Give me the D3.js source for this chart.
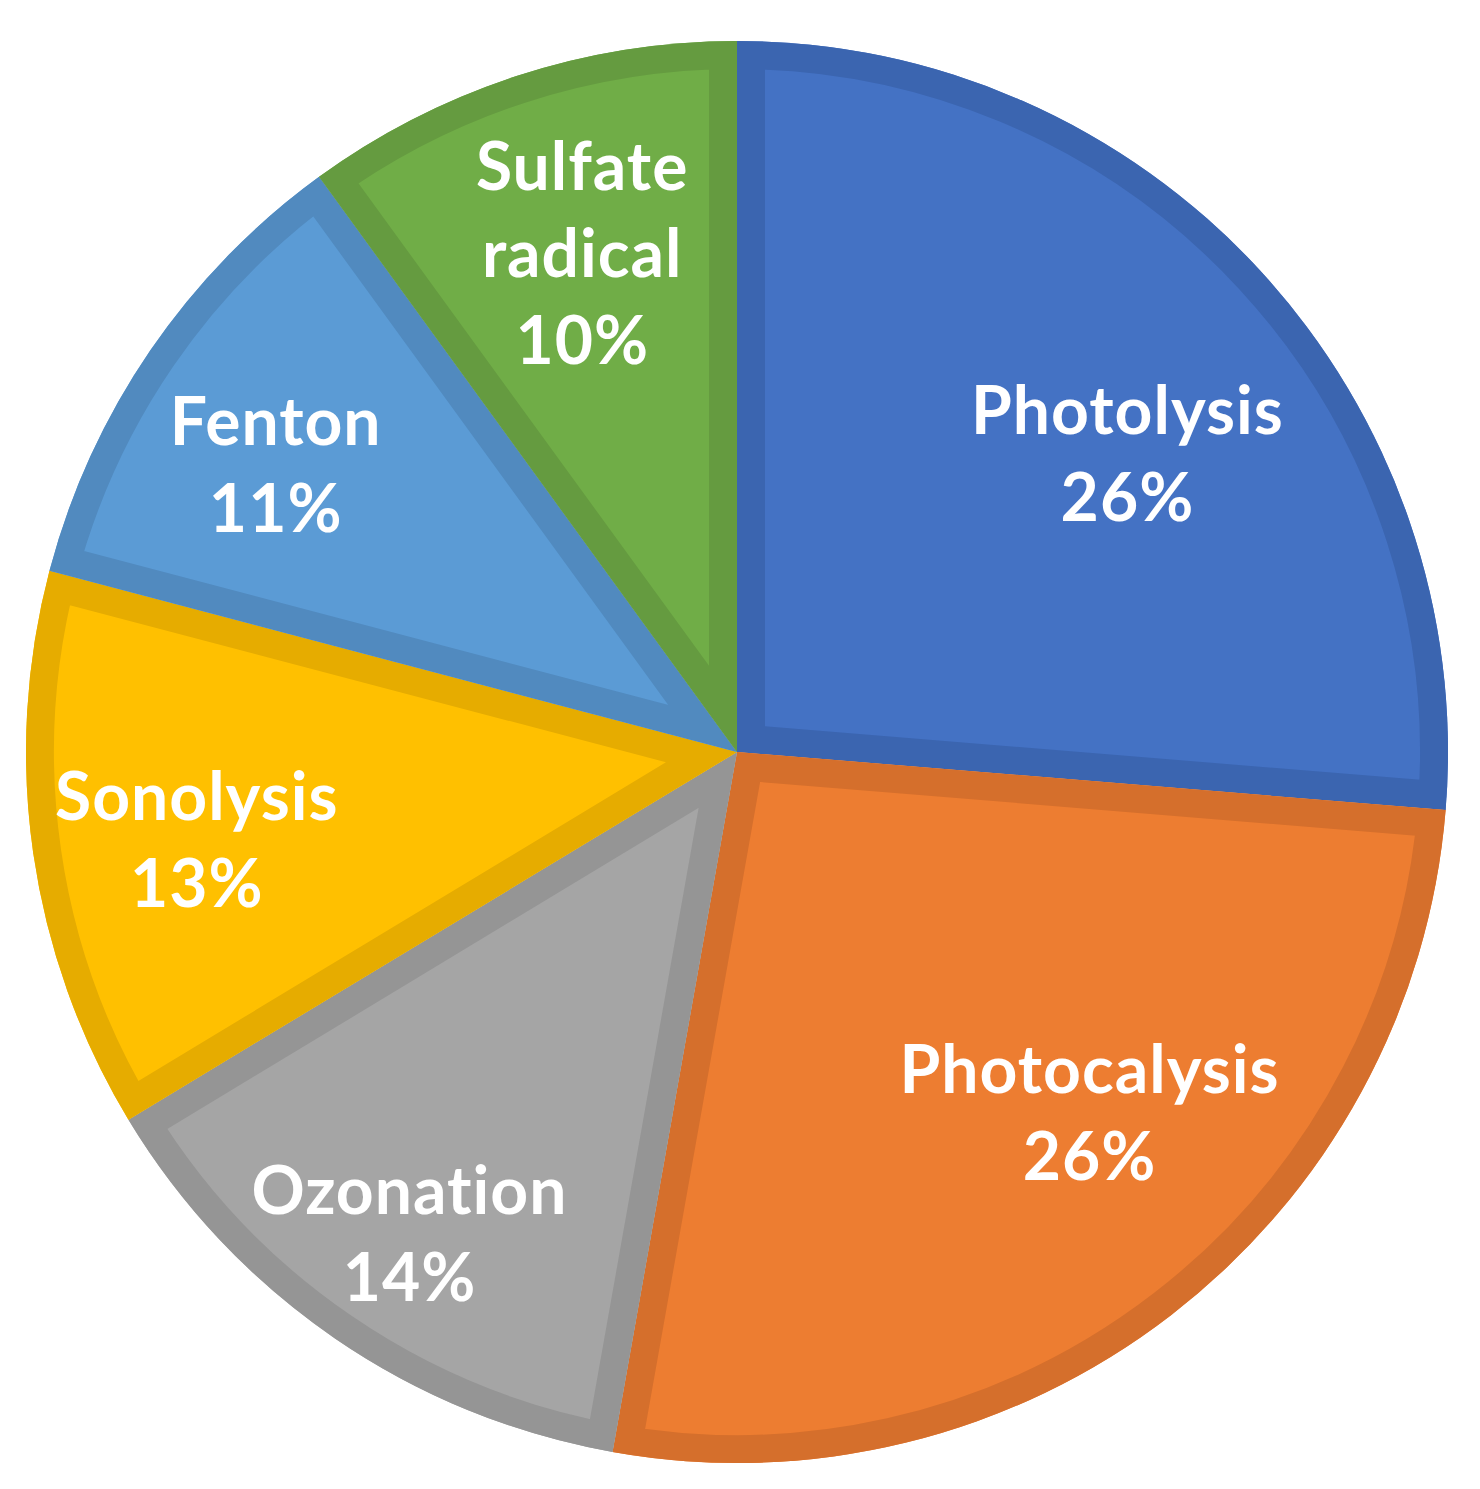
<!DOCTYPE html>
<html>
<head>
<meta charset="utf-8">
<script src="https://cdn.jsdelivr.net/npm/d3@7/dist/d3.min.js"></script>
<style>
  html, body { margin: 0; padding: 0; background: #ffffff; }
  svg { display: block; }
</style>
</head>
<body>
<svg id="chart" width="1480" height="1489"></svg>
<script>
// ---- data ----
const categories = ["Photolysis", "Photocalysis", "Ozonation", "Sonolysis", "Fenton", "Sulfate radical"];
const values = [26.3, 26.5, 13.55, 12.75, 10.9, 10.0];
const percentLabels = ["26%", "26%", "14%", "13%", "11%", "10%"];

// ---- style / layout ----
const fillColors   = ["#4472C4", "#ED7D31", "#A5A5A5", "#FFC000", "#5B9BD5", "#70AD47"];
const borderColors = ["#3B65B0", "#D56F2C", "#959595", "#E6AC00", "#518ABF", "#659B40"];
const nameLines = [["Photolysis"], ["Photocalysis"], ["Ozonation"], ["Sonolysis"], ["Fenton"], ["Sulfate", "radical"]];
// label anchor: t = fraction across the slice's angle, r = fraction of radius
const labelPolar = [
  {t: 0.557, r: 0.69}, {t: 0.43, r: 0.71}, {t: 0.494, r: 0.82},
  {t: 0.475, r: 0.77}, {t: 0.436, r: 0.764}, {t: 0.52, r: 0.733}
];
const cx = 737, cy = 752, R = 711;
const borderW = 28;
const fontSize = 66, lineGap = 87, capHalf = 23;

const svg = d3.select("#chart");
const g = svg.append("g").attr("transform", `translate(${cx},${cy})`);

const data = categories.map((c, i) => ({name: c, value: values[i], i}));
const pie = d3.pie().sort(null).value(d => d.value);
const arcs = pie(data);
const arcGen = d3.arc().innerRadius(0).outerRadius(R);

const defs = svg.append("defs");
arcs.forEach((a, i) => {
  defs.append("clipPath").attr("id", "clip" + i)
    .append("path").attr("d", arcGen(a));
});

const slices = g.selectAll("g.slice").data(arcs).enter().append("g").attr("class", "slice");
slices.append("path")
  .attr("d", arcGen)
  .attr("fill", (d, i) => fillColors[i]);
slices.append("path")
  .attr("d", arcGen)
  .attr("fill", "none")
  .attr("stroke", (d, i) => borderColors[i])
  .attr("stroke-width", borderW * 2)
  .attr("stroke-linejoin", "miter")
  .attr("clip-path", (d, i) => `url(#clip${i})`);

// labels
arcs.forEach((a, i) => {
  const lp = labelPolar[i];
  const ang = a.startAngle + (a.endAngle - a.startAngle) * lp.t;
  const rr = R * lp.r;
  const x = rr * Math.sin(ang);
  const y = -rr * Math.cos(ang);
  const lines = nameLines[i].concat([percentLabels[i]]);
  const n = lines.length;
  const t = g.append("text")
    .attr("text-anchor", "middle")
    .attr("font-family", "Lato, 'Open Sans', sans-serif")
    .attr("font-weight", "bold")
    .attr("font-size", fontSize)
    .attr("letter-spacing", 1)
    .attr("fill", "#ffffff");
  lines.forEach((ln, k) => {
    t.append("tspan")
      .attr("x", x)
      .attr("y", y + (k - (n - 1) / 2) * lineGap + capHalf)
      .text(ln);
  });
});
</script>
</body>
</html>
